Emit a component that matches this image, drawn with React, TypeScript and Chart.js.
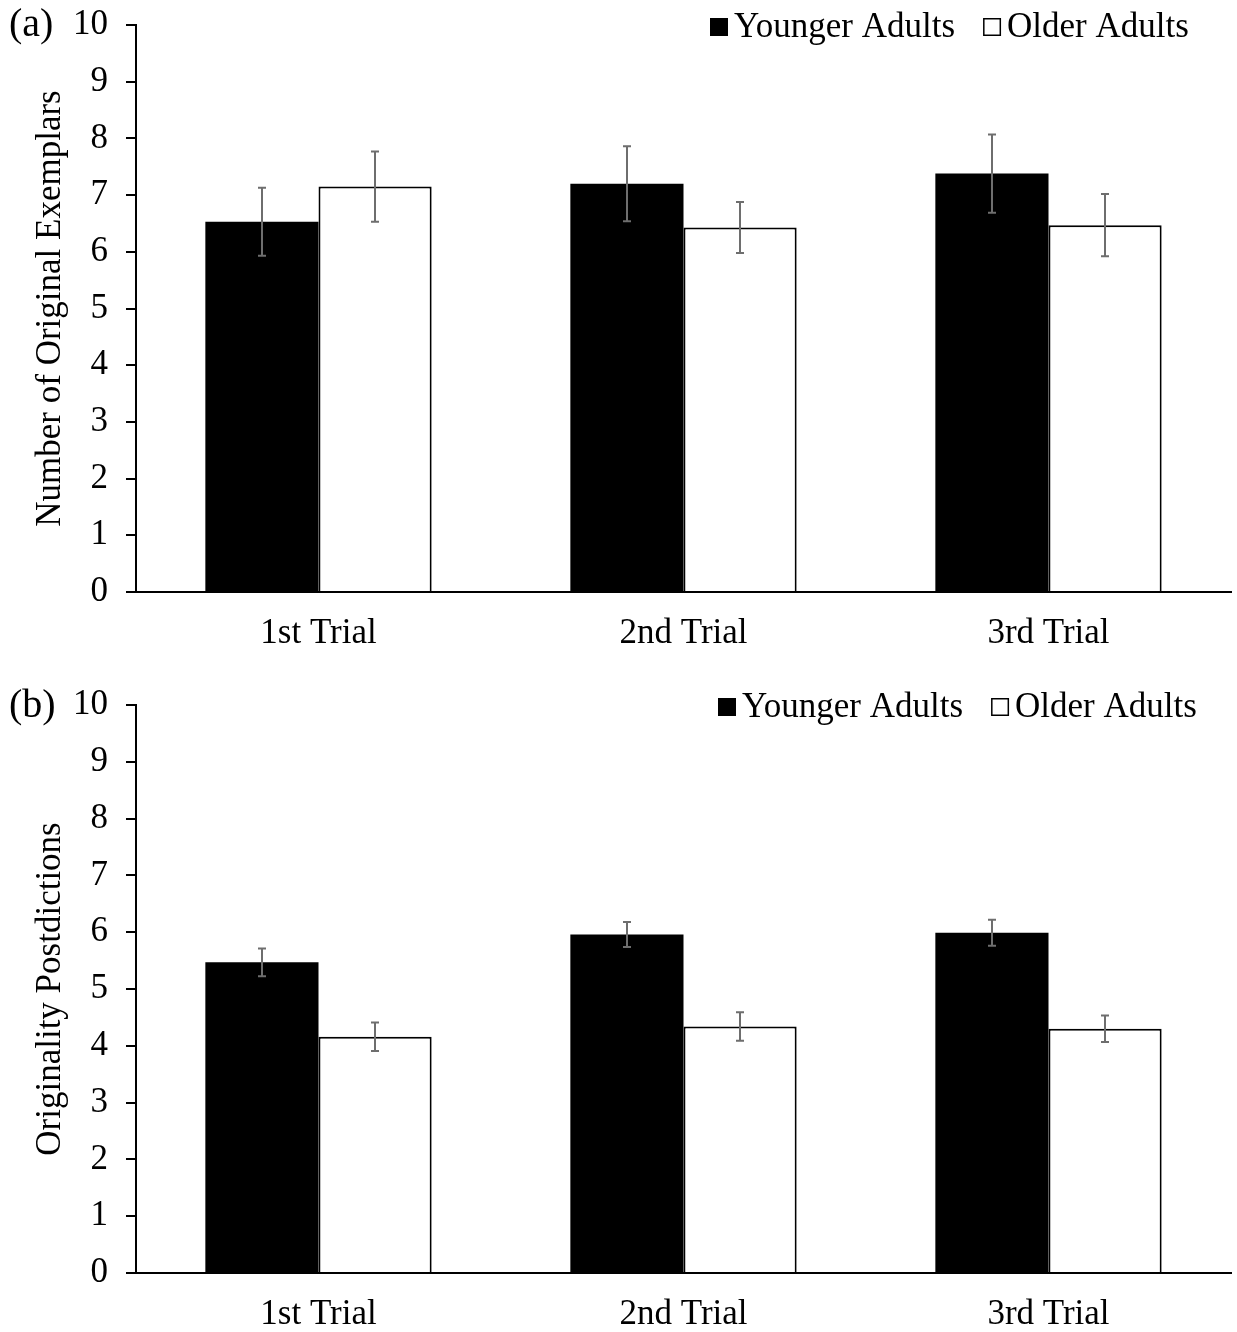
import React, { useEffect, useRef } from "react";
import { Chart, registerables } from "chart.js";

Chart.register(...registerables);

const categories = ["1st Trial", "2nd Trial", "3rd Trial"];
const seriesNames = ["Younger Adults", "Older Adults"];
const yTickValues = [0, 1, 2, 3, 4, 5, 6, 7, 8, 9, 10];

const exemplarsYounger = [6.53, 7.2, 7.38];
const exemplarsOlder = [7.15, 6.43, 6.47];
const exemplarsYoungerErr = [0.6, 0.66, 0.69];
const exemplarsOlderErr = [0.62, 0.45, 0.55];

const postYounger = [5.47, 5.96, 5.99];
const postOlder = [4.16, 4.34, 4.3];
const postYoungerErr = [0.245, 0.22, 0.23];
const postOlderErr = [0.25, 0.25, 0.235];

const FONT = "'Liberation Serif', 'Times New Roman', serif";
const FS = 35;

const errorBarPlugin = {
  id: "errorBars",
  afterDatasetsDraw(chart: any, _args: any, opts: any) {
    const ctx = chart.ctx;
    const y = chart.scales.y;
    const errs: number[][] = opts.errors || [];
    ctx.save();
    ctx.strokeStyle = "#6e6e6e";
    ctx.lineWidth = 2;
    chart.data.datasets.forEach((ds: any, di: number) => {
      const meta = chart.getDatasetMeta(di);
      meta.data.forEach((el: any, i: number) => {
        const v = ds.data[i];
        const e = errs[di][i];
        const top = y.getPixelForValue(v + e);
        const bot = y.getPixelForValue(v - e);
        const x = Math.round(el.x);
        ctx.beginPath();
        ctx.moveTo(x, top);
        ctx.lineTo(x, bot);
        ctx.moveTo(x - 4, top);
        ctx.lineTo(x + 4, top);
        ctx.moveTo(x - 4, bot);
        ctx.lineTo(x + 4, bot);
        ctx.stroke();
      });
    });
    ctx.restore();
  },
};

const annotPlugin = {
  id: "annot",
  afterDraw(chart: any, _args: any, opts: any) {
    const ctx = chart.ctx;
    const area = chart.chartArea;
    ctx.save();
    ctx.textBaseline = "middle";
    ctx.fillStyle = "#000";
    // panel label
    ctx.font = `40px ${FONT}`;
    ctx.textAlign = "left";
    ctx.fillText(opts.panel, 9, area.top + opts.panelDy);
    // legend
    ctx.font = `${FS}px ${FONT}`;
    let x = area.left + opts.legendDx;
    const cy = area.top + opts.legendDy;
    const box = 18;
    chart.data.datasets.forEach((ds: any, i: number) => {
      if (i === 0) {
        ctx.fillStyle = "#000";
        ctx.fillRect(x, cy - box / 2, box, box);
      } else {
        ctx.fillStyle = "#fff";
        ctx.fillRect(x, cy - box / 2, box, box);
        ctx.strokeStyle = "#000";
        ctx.lineWidth = 1.5;
        ctx.strokeRect(x + 0.75, cy - box / 2 + 0.75, box - 1.5, box - 1.5);
      }
      x += box + 6;
      ctx.fillStyle = "#000";
      ctx.fillText(ds.label, x, cy + 1);
      x += ctx.measureText(ds.label).width + 28;
    });
    ctx.restore();
  },
};

function Panel(props: {
  younger: number[];
  older: number[];
  youngerErr: number[];
  olderErr: number[];
  yTitle: string;
  panel: string;
  top: number;
  height: number;
  topPad: number;
  xHeight: number;
  legendDx: number;
  legendDy: number;
  panelDy: number;
}) {
  const ref = useRef<HTMLCanvasElement>(null);
  useEffect(() => {
    if (!ref.current) return;
    const chart = new Chart(ref.current, {
      type: "bar",
      data: {
        labels: categories,
        datasets: [
          {
            label: seriesNames[0],
            data: props.younger,
            backgroundColor: "#000",
            borderColor: "#000",
            borderWidth: 0,
          },
          {
            label: seriesNames[1],
            data: props.older,
            backgroundColor: "#fff",
            borderColor: "#000",
            borderWidth: 2,
          },
        ],
      },
      options: {
        responsive: false,
        animation: false,
        layout: { padding: { top: props.topPad, right: 6, left: 0, bottom: 0 } },
        datasets: { bar: { barPercentage: 1, categoryPercentage: 0.62 } },
        plugins: {
          legend: { display: false },
          tooltip: { enabled: false },
          errorBars: { errors: [props.youngerErr, props.olderErr] },
          annot: {
            panel: props.panel,
            legendDx: props.legendDx,
            legendDy: props.legendDy,
            panelDy: props.panelDy,
          },
        } as any,
        scales: {
          x: {
            grid: { display: false, drawTicks: false },
            border: { display: true, color: "#000", width: 2 },
            ticks: {
              color: "#000",
              font: { family: FONT, size: FS },
              padding: 21,
              maxRotation: 0,
            },
            afterFit: (s: any) => {
              s.height = props.xHeight;
            },
          },
          y: {
            min: 0,
            max: 10,
            afterBuildTicks: (s: any) => {
              s.ticks = yTickValues.map((v) => ({ value: v }));
            },
            grid: {
              display: true,
              drawOnChartArea: false,
              drawTicks: true,
              tickLength: 10,
              color: "#000",
              lineWidth: 2,
            },
            border: { display: true, color: "#000", width: 2 },
            ticks: {
              color: "#000",
              font: { family: FONT, size: FS },
              padding: 18,
            },
            title: {
              display: true,
              text: props.yTitle,
              color: "#000",
              font: { family: FONT, size: FS },
              padding: { top: 30, bottom: 0 },
            },
            afterFit: (s: any) => {
              s.width = 136;
            },
          },
        },
      },
      plugins: [errorBarPlugin, annotPlugin],
    });
    return () => chart.destroy();
  }, []);
  return (
    <canvas
      ref={ref}
      width={1237}
      height={props.height}
      style={{ display: "block", position: "absolute", left: 0, top: props.top, width: 1237, height: props.height }}
    />
  );
}

export default function App() {
  return (
    <div style={{ position: "absolute", left: 0, top: 0, width: 1237, height: 1332, background: "#fff", overflow: "hidden" }}>
      <Panel
        younger={exemplarsYounger}
        older={exemplarsOlder}
        youngerErr={exemplarsYoungerErr}
        olderErr={exemplarsOlderErr}
        yTitle="Number of Original Exemplars"
        panel="(a)"
        top={-14}
        height={680}
        topPad={39}
        xHeight={74}
        legendDx={574}
        legendDy={2}
        panelDy={0}
      />
      <Panel
        younger={postYounger}
        older={postOlder}
        youngerErr={postYoungerErr}
        olderErr={postOlderErr}
        yTitle="Originality Postdictions"
        panel="(b)"
        top={666}
        height={666}
        topPad={39}
        xHeight={59}
        legendDx={582}
        legendDy={2}
        panelDy={1}
      />
    </div>
  );
}
